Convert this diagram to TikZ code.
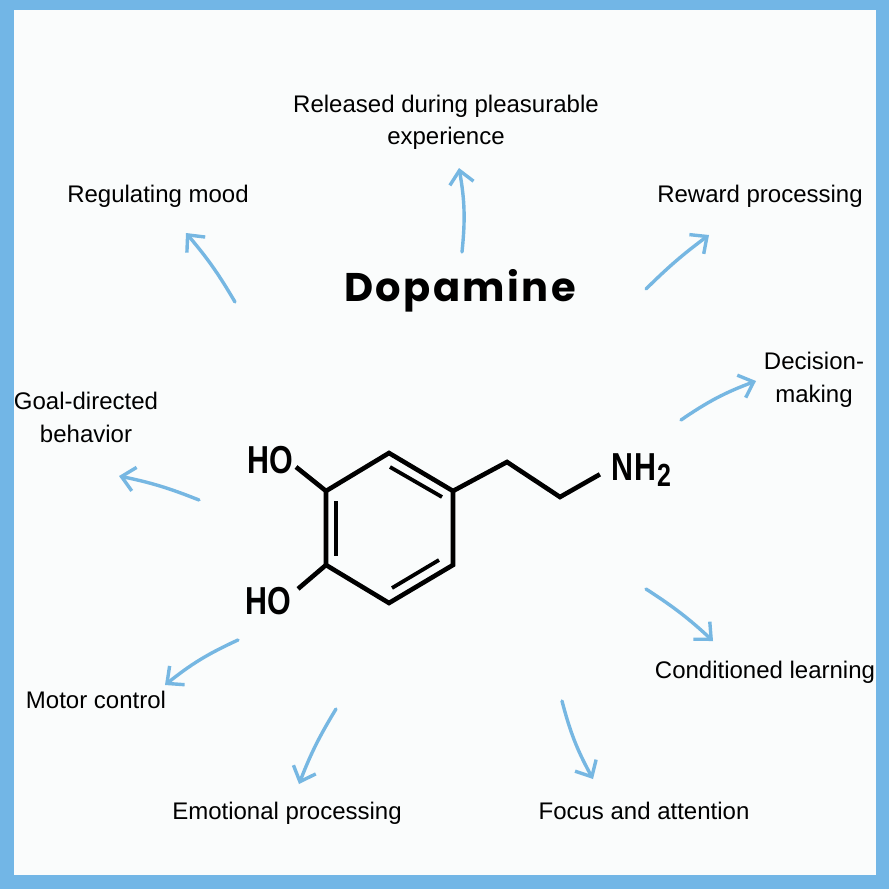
\documentclass[tikz,border=0pt]{standalone}
\usepackage{fontspec}
\setmainfont{Liberation Sans}
\newfontfamily\chemfont[FakeStretch=0.78]{Liberation Sans}
\newfontfamily\titlefont[LetterSpace=6]{Poppins}
\usepackage{xcolor}
\usetikzlibrary{arrows.meta}
\definecolor{framecolor}{HTML}{72B6E6}
\definecolor{panelcolor}{HTML}{FAFCFC}
\definecolor{arrowcolor}{HTML}{76B7E2}

\begin{document}
\begin{tikzpicture}[
	x=1pt, y=-1pt,
	effect/.style={inner sep=0pt, align=center, text=black, font=\fontsize{24}{32.5}\selectfont},
	atoms/.style={inner sep=3pt, text=black, font=\chemfont\bfseries\fontsize{39}{39}\selectfont},
	title/.style={inner sep=0pt, text=black, font=\titlefont\bfseries\fontsize{40}{40}\selectfont},
	bond/.style={draw=black, line width=4.6pt, line join=miter},
	thinbond/.style={draw=black, line width=3.8pt},
	arrow/.style={-{Straight Barb[length=13pt, width=24pt, line width=3.4pt]}, draw=arrowcolor, line width=3.4pt, line cap=round}
	]
	\useasboundingbox (0,0) rectangle (889,889);
	\fill[framecolor] (0,0) rectangle (889,889);
	\fill[panelcolor] (14,10) rectangle (876,875);

	\node[title] (dopamine) at (460,291) {Dopamine};

	\node[effect] (released) at (446,122.5) {Released during pleasurable\\experience};
	\node[effect] (mood) at (158,196.5) {Regulating mood};
	\node[effect] (reward) at (760,196.5) {Reward processing};
	\node[effect] (decision) at (814,380) {Decision-\\making};
	\node[effect] (goal) at (86,417.5) {Goal-directed\\behavior};
	\node[effect] (motor) at (96,700) {Motor control};
	\node[effect] (emotional) at (287,813.5) {Emotional processing};
	\node[effect] (focus) at (644,810.5) {Focus and attention};
	\node[effect] (learning) at (765,672.5) {Conditioned learning};

	% ring
	\coordinate (ringT) at (389,453);
	\coordinate (ringUR) at (453,491);
	\coordinate (ringLR) at (453,565);
	\coordinate (ringB) at (389,603);
	\coordinate (ringLL) at (326,565);
	\coordinate (ringUL) at (326,491);
	\coordinate (chainA) at (507,462);
	\coordinate (chainB) at (560,497);
	\coordinate (innerA) at (390,467);
	\coordinate (innerB) at (442,497);
	\coordinate (innerC) at (336,501);
	\coordinate (innerD) at (336,556);
	\coordinate (innerE) at (392,588);
	\coordinate (innerF) at (439,560);

	\node[atoms] (hotop) at (270,460) {HO};
	\node[atoms, inner sep=7pt] (hobottom) at (268,601) {HO};
	\node[atoms, inner sep=11pt] (amine) at (641,470) {N\kern1pt H\kern1pt\raisebox{-6pt}{\fontsize{32}{32}\selectfont 2}};

	\draw[bond] (ringT) -- (ringUR) -- (ringLR) -- (ringB) -- (ringLL) -- (ringUL) -- cycle;
	\draw[thinbond] (innerA) -- (innerB);
	\draw[thinbond] (innerC) -- (innerD);
	\draw[thinbond] (innerE) -- (innerF);
	\draw[bond] (ringUL) -- (hotop.-15);
	\draw[bond] (ringLL) -- (hobottom.22);
	\draw[bond] (ringUR) -- (chainA) -- (chainB) -- (amine.186);

	% arrow tails
	\coordinate (releasedtail) at (462,252);
	\coordinate (releasedhead) at (459,168);
	\coordinate (moodtail) at (235,302);
	\coordinate (moodhead) at (186,233);
	\coordinate (rewardtail) at (646,289);
	\coordinate (rewardhead) at (709,235);
	\coordinate (decisiontail) at (681,420);
	\coordinate (decisionhead) at (756,381);
	\coordinate (goaltail) at (199,500);
	\coordinate (goalhead) at (119,476);
	\coordinate (motortail) at (238,640);
	\coordinate (motorhead) at (165,685);
	\coordinate (emotionaltail) at (336,709);
	\coordinate (emotionalhead) at (299,784);
	\coordinate (focustail) at (562,701);
	\coordinate (focushead) at (593,779);
	\coordinate (learningtail) at (646,589);
	\coordinate (learninghead) at (713,641);

	\draw[arrow] (releasedtail) to[bend right=8] (releasedhead);
	\draw[arrow] (moodtail) to[bend right=5] (moodhead);
	\draw[arrow] (rewardtail) to[bend left=4] (rewardhead);
	\draw[arrow] (decisiontail) to[bend left=7] (decisionhead);
	\draw[arrow] (goaltail) to[bend right=5] (goalhead);
	\draw[arrow] (motortail) to[bend right=7] (motorhead);
	\draw[arrow] (emotionaltail) to[bend right=5] (emotionalhead);
	\draw[arrow] (focustail) to[bend right=7] (focushead);
	\draw[arrow] (learningtail) to[bend left=5] (learninghead);
\end{tikzpicture}
\end{document}
